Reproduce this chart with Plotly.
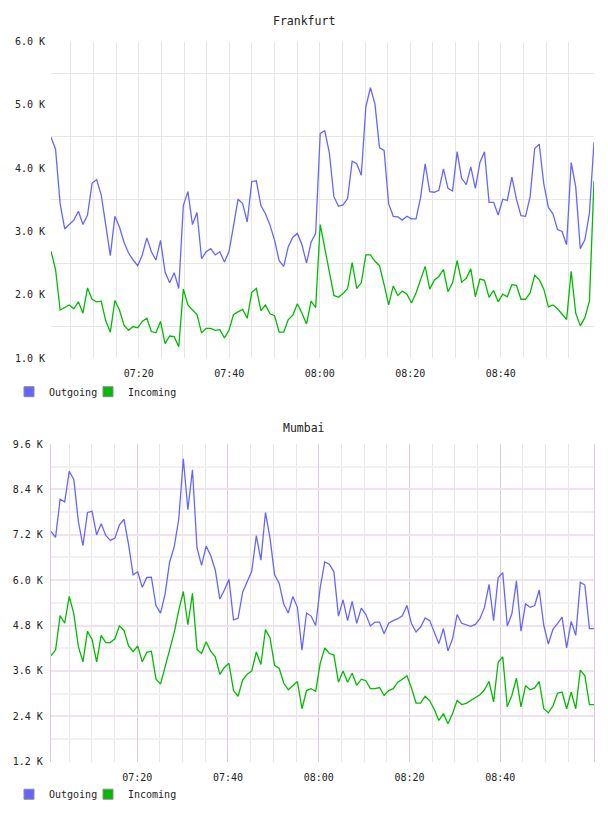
import pandas as pd
import plotly.graph_objects as go

# ---------------- data (values in thousands) ----------------
fra_out = [4.49, 4.30, 3.44, 3.04, 3.11, 3.18, 3.32, 3.11, 3.26, 3.76,
           3.82, 3.58, 3.10, 2.62, 3.24, 3.07, 2.83, 2.66, 2.55, 2.46,
           2.63, 2.90, 2.68, 2.55, 2.86, 2.36, 2.19, 2.35, 2.10, 3.41,
           3.63, 3.11, 3.30, 2.57, 2.68, 2.73, 2.63, 2.68, 2.52, 2.68,
           3.09, 3.51, 3.44, 3.15, 3.79, 3.80, 3.41, 3.28, 3.10, 2.86,
           2.54, 2.45, 2.76, 2.91, 2.97, 2.79, 2.50, 2.83, 2.97, 4.55,
           4.59, 4.24, 3.55, 3.40, 3.42, 3.52, 4.11, 4.07, 3.89, 4.97,
           5.27, 5.01, 4.32, 4.28, 3.44, 3.24, 3.23, 3.18, 3.24, 3.20,
           3.20, 3.54, 4.07, 3.63, 3.62, 3.65, 3.99, 3.68, 3.64, 4.26,
           3.84, 3.74, 4.02, 3.68, 4.09, 4.26, 3.46, 3.46, 3.26, 3.51,
           3.49, 3.86, 3.51, 3.25, 3.24, 3.55, 4.31, 4.38, 3.75, 3.38,
           3.28, 3.03, 3.00, 2.79, 4.09, 3.70, 2.73, 2.87, 3.29, 4.41]
fra_in = [2.69, 2.40, 1.76, 1.80, 1.84, 1.78, 1.89, 1.71, 2.11, 1.93,
          1.89, 1.90, 1.59, 1.41, 1.91, 1.76, 1.52, 1.44, 1.50, 1.48,
          1.58, 1.63, 1.42, 1.40, 1.58, 1.23, 1.35, 1.34, 1.18, 2.09,
          1.84, 1.76, 1.69, 1.40, 1.47, 1.47, 1.44, 1.45, 1.32, 1.44,
          1.69, 1.73, 1.77, 1.63, 2.04, 2.10, 1.75, 1.84, 1.70, 1.67,
          1.41, 1.41, 1.61, 1.68, 1.86, 1.71, 1.54, 1.90, 1.80, 3.11,
          2.73, 2.37, 1.99, 1.96, 2.02, 2.10, 2.51, 2.10, 2.19, 2.63,
          2.63, 2.53, 2.46, 2.16, 1.84, 2.14, 1.99, 2.06, 2.01, 1.87,
          2.03, 2.24, 2.45, 2.09, 2.23, 2.29, 2.40, 2.05, 2.19, 2.54,
          2.20, 2.26, 2.41, 1.97, 2.25, 2.23, 1.96, 2.07, 1.89, 2.01,
          1.97, 2.16, 2.15, 1.93, 1.93, 2.03, 2.31, 2.24, 2.09, 1.81,
          1.84, 1.78, 1.70, 1.61, 2.37, 1.71, 1.51, 1.64, 1.90, 3.80]
mum_out = [7.29, 7.13, 8.14, 8.07, 8.88, 8.66, 7.55, 6.91, 7.79, 7.82,
           7.20, 7.49, 7.18, 7.05, 7.11, 7.46, 7.61, 6.94, 6.14, 6.22,
           5.81, 6.07, 6.08, 5.33, 5.13, 5.63, 6.48, 6.88, 7.61, 9.21,
           7.86, 8.92, 6.85, 6.39, 6.90, 6.65, 6.27, 5.50, 5.74, 6.02,
           4.95, 4.99, 5.68, 5.95, 6.24, 7.18, 6.53, 7.79, 7.11, 6.14,
           5.92, 5.37, 5.13, 5.57, 5.28, 4.15, 5.13, 5.05, 4.80, 5.81,
           6.48, 6.42, 6.22, 5.05, 5.48, 4.93, 5.44, 4.86, 5.26, 5.09,
           4.79, 4.89, 4.89, 4.58, 4.86, 4.93, 4.98, 5.06, 5.33, 4.85,
           4.63, 4.76, 5.00, 4.93, 4.65, 4.32, 4.72, 4.13, 4.45, 5.09,
           4.86, 4.82, 4.78, 4.83, 4.98, 5.28, 5.89, 4.93, 6.07, 6.20,
           4.79, 5.11, 5.98, 4.65, 5.37, 5.28, 5.33, 5.74, 4.80, 4.31,
           4.70, 4.85, 5.02, 4.21, 4.91, 4.54, 5.94, 5.87, 4.72, 4.72]
mum_in = [4.00, 4.15, 5.06, 4.86, 5.57, 5.11, 4.24, 3.84, 4.65, 4.43,
          3.84, 4.54, 4.35, 4.35, 4.45, 4.79, 4.67, 4.26, 4.11, 4.26,
          3.84, 4.09, 4.12, 3.39, 3.25, 3.71, 4.17, 4.61, 5.20, 5.70,
          4.82, 5.65, 4.17, 4.06, 4.37, 4.12, 3.97, 3.51, 3.69, 3.80,
          3.08, 2.93, 3.36, 3.51, 3.60, 4.10, 3.77, 4.69, 4.47, 3.74,
          3.67, 3.28, 3.10, 3.22, 3.32, 2.60, 3.08, 3.13, 3.06, 3.80,
          4.21, 4.06, 4.02, 3.30, 3.60, 3.30, 3.54, 3.22, 3.38, 3.34,
          3.13, 3.13, 3.16, 2.95, 3.08, 3.13, 3.30, 3.38, 3.47, 3.15,
          2.75, 2.75, 2.93, 2.81, 2.58, 2.29, 2.47, 2.20, 2.47, 2.82,
          2.71, 2.74, 2.82, 2.90, 2.97, 3.10, 3.32, 2.78, 3.83, 3.97,
          2.65, 2.95, 3.41, 2.65, 3.21, 3.10, 3.15, 3.32, 2.60, 2.49,
          2.67, 3.01, 3.04, 2.60, 3.04, 2.60, 3.62, 3.47, 2.71, 2.71]

fra_start, fra_end = "2024-01-01 07:00:36", "2024-01-01 09:00:36"
mum_start, mum_end = "2024-01-01 07:01:00", "2024-01-01 09:00:40"
fra_time = pd.date_range(fra_start, fra_end, periods=len(fra_out))
mum_time = pd.date_range(mum_start, mum_end, periods=len(mum_out))

# labelled time ticks and the 5-minute grid
time_labels = ["07:20", "07:40", "08:00", "08:20", "08:40"]
time_ticks = [f"2024-01-01 {t}:00" for t in time_labels]
grid_minutes = [f"2024-01-01 {h:02d}:{m:02d}:00"
                for h in (7, 8) for m in range(0, 60, 5)
                if not (h == 7 and m == 0)]

fra_ticks = [1.0, 2.0, 3.0, 4.0, 5.0, 6.0]
fra_grid = [1.5, 2.5, 3.5, 4.5, 5.5]
mum_ticks = [1.2, 2.4, 3.6, 4.8, 6.0, 7.2, 8.4, 9.6]
mum_grid = [1.8, 3.0, 4.2, 5.4, 6.6, 7.8, 9.0]
series_names = ["Outgoing", "Incoming"]
titles = ["Frankfurt", "Mumbai"]

# ---------------- style ----------------
W, H = 608, 816
BLUE = "#6666ff"
GREEN = "#00bb00"
FONT = "DejaVu Sans Mono"
GRAY = "#e6e6e6"
PINK = "#efe2ef"
PURPLE = "#decade"
LIGHT = "#ececec"

def px_x(p):
    return p / W

def px_y(p):
    return 1 - p / H

fig = go.Figure()

for xs, ys, col, ax, ay in [
    (fra_time, fra_out, BLUE, "x", "y"),
    (fra_time, fra_in, GREEN, "x", "y"),
    (mum_time, mum_out, BLUE, "x2", "y2"),
    (mum_time, mum_in, GREEN, "x2", "y2"),
]:
    fig.add_trace(go.Scatter(x=xs, y=ys, mode="lines", xaxis=ax, yaxis=ay,
                             line=dict(color=col, width=1.3), showlegend=False,
                             hoverinfo="skip"))

# legend entries (square swatches); a blank trailing entry keeps the box wide
for leg in ["legend", "legend2"]:
    for name, col in zip(series_names + [" "], [BLUE, GREEN, "rgba(0,0,0,0)"]):
        fig.add_trace(go.Scatter(x=[None], y=[None], mode="markers", name=name,
                                 legend=leg, xaxis="x", yaxis="y",
                                 marker=dict(symbol="square", size=10, color=col,
                                             line=dict(color="#8a8a8a" if name.strip() else "rgba(0,0,0,0)",
                                                       width=1))))

tickfont = dict(family=FONT, size=10, color="#222222")

xcommon = dict(type="date", tickmode="array", tickvals=time_ticks,
               ticktext=time_labels, ticks="", showline=False,
               zeroline=False, tickfont=tickfont, ticklabelstandoff=8,
               fixedrange=True)

legcommon = dict(orientation="h", xanchor="left", yanchor="middle",
                 font=dict(family=FONT, size=10, color="#222222"),
                 itemwidth=30, bgcolor="rgba(0,0,0,0)", borderwidth=0,
                 entrywidth=34, itemclick=False, itemdoubleclick=False)

fig.update_layout(
    width=W, height=H, margin=dict(l=0, r=0, t=0, b=0),
    paper_bgcolor="white", plot_bgcolor="white",
    font=dict(family=FONT, size=10, color="#222222"),
    xaxis=dict(xcommon, domain=[px_x(51), px_x(594)], anchor="y",
               range=[fra_start, fra_end], showgrid=True, gridcolor=GRAY,
               gridwidth=1,
               minor=dict(tickmode="array", tickvals=grid_minutes,
                          showgrid=True, gridcolor=GRAY, gridwidth=1)),
    yaxis=dict(domain=[px_y(358), px_y(37)], anchor="x", range=[1, 6],
               tickmode="array", tickvals=fra_ticks,
               ticktext=[f"{v:.1f} K" for v in fra_ticks],
               showgrid=False, zeroline=False, showline=False, ticks="",
               tickfont=tickfont, ticklabelstandoff=5, fixedrange=True,
               minor=dict(tickmode="array", tickvals=fra_grid, showgrid=True,
                          gridcolor=GRAY, gridwidth=1)),
    xaxis2=dict(xcommon, domain=[px_x(51), px_x(594)], anchor="y2",
                range=[mum_start, mum_end], showgrid=True, gridcolor=PURPLE,
                gridwidth=1,
                minor=dict(tickmode="array", tickvals=grid_minutes,
                           showgrid=True, gridcolor="#ebe4eb", gridwidth=1)),
    yaxis2=dict(domain=[px_y(767), px_y(445)], anchor="x2", range=[1.2, 9.6],
                tickmode="array", tickvals=mum_ticks,
                ticktext=[f"{v:.1f} K" for v in mum_ticks],
                showgrid=True, gridcolor=PINK, gridwidth=1.6,
                zeroline=False, showline=True, mirror=True, linecolor=PURPLE,
                linewidth=1.2, ticks="",
                tickfont=tickfont, ticklabelstandoff=5, fixedrange=True,
                minor=dict(tickmode="array", tickvals=mum_grid, showgrid=True,
                           gridcolor="#f1f1f1", gridwidth=1.6)),
    legend=dict(legcommon, x=px_x(9), y=px_y(392)),
    legend2=dict(legcommon, x=px_x(9), y=px_y(800)),
    annotations=[
        dict(text=titles[0], x=0.5, y=px_y(16), xref="paper", yref="paper",
             showarrow=False, xanchor="center", yanchor="middle",
             font=dict(family=FONT, size=11.5, color="#222222")),
        dict(text=titles[1], x=0.5, y=px_y(429), xref="paper", yref="paper",
             showarrow=False, xanchor="center", yanchor="middle",
             font=dict(family=FONT, size=11.5, color="#222222")),
    ],
)

fig.write_html("out.html")
